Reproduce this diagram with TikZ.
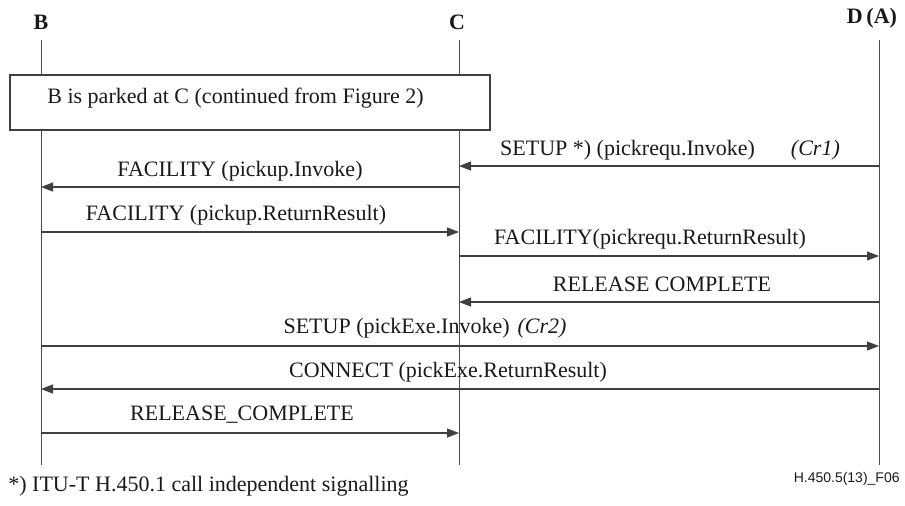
\documentclass[tikz,border=0pt]{standalone}
\usepackage{fontspec}
\setmainfont{Liberation Serif}
\newfontfamily\figfont{Liberation Sans}
\usetikzlibrary{arrows.meta, positioning}
\tikzset{
  x=0.5pt, y=-0.5pt, % one unit is one pixel of the figure
  every node/.style={font=\fontsize{11}{13}\selectfont, text=black!90},
  entity/.style={font=\fontsize{11}{13}\selectfont\bfseries, inner sep=0pt},
  life/.style={draw=black!70, line width=0.5pt},
  msg/.style={draw=black!75, line width=0.6pt, -{Triangle[length=6pt,width=4.5pt]}},
  lbl/.style={anchor=base, inner sep=0pt},
}

\begin{document}
\begin{tikzpicture}
  \useasboundingbox (0,0) rectangle (905,505);

  % entities and their life lines
  \node[entity] (B) at (41,22) {B};
  \node[entity] (C) at (457,22) {C};
  \node[entity] (D) at (872,18) {D\,(A)};
  \coordinate (Btop) at (41,40);   \coordinate (Bend) at (41,465);
  \coordinate (Ctop) at (459,40);  \coordinate (Cend) at (459,465);
  \coordinate (Dtop) at (879,40);  \coordinate (Dend) at (879,465);
  \draw[life] (Btop) -- (Bend);
  \draw[life] (Ctop) -- (Cend);
  \draw[life] (Dtop) -- (Dend);

  \draw[draw=black!75, fill=white, line width=0.6pt] (10,75) rectangle (490,130);
  \node[anchor=base west, inner sep=0pt] (park) at (47,103)
        {B is parked at C (continued from Figure 2)};

  % messages
  \draw[msg] (Dtop |- 0,166) -- (Ctop |- 0,166);
  \node[lbl] (m1) at (670,155) {SETUP *) (pickrequ.Invoke)\hspace{18pt}\textit{(Cr1)}};

  \draw[msg] (Ctop |- 0,187) -- (Btop |- 0,187);
  \node[lbl] (m2) at (240,176) {FACILITY (pickup.Invoke)};

  \draw[msg] (Btop |- 0,232) -- (Ctop |- 0,232);
  \node[lbl] (m3) at (236,220) {FACILITY (pickup.ReturnResult)};

  \draw[msg] (Ctop |- 0,256) -- (Dtop |- 0,256);
  \node[lbl] (m4) at (650,244) {FACILITY(pickrequ.ReturnResult)};

  \draw[msg] (Dtop |- 0,302) -- (Ctop |- 0,302);
  \node[lbl] (m5) at (662,291) {RELEASE COMPLETE};

  \draw[msg] (Btop |- 0,346) -- (Dtop |- 0,346);
  \node[lbl] (m6) at (425,333) {SETUP (pickExe.Invoke)\hspace{4pt}\textit{(Cr2)}};

  \draw[msg] (Dtop |- 0,389) -- (Btop |- 0,389);
  \node[lbl] (m7) at (448,377) {CONNECT (pickExe.ReturnResult)};

  \draw[msg] (Btop |- 0,433) -- (Ctop |- 0,433);
  \node[lbl] (m8) at (242,420) {RELEASE\_COMPLETE};

  % notes
  \node[anchor=base west, inner sep=0pt] (note) at (8,491)
        {*) ITU-T H.450.1 call independent signalling};
  \node[anchor=base east, inner sep=0pt, font=\figfont\fontsize{7}{8}\selectfont] (fig) at (900,482)
        {H.450.5(13)\_F06};
\end{tikzpicture}
\end{document}
